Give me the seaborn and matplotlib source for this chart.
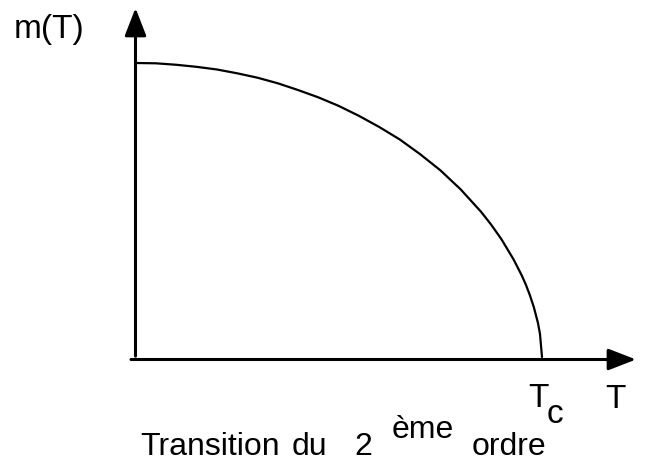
# Second-order transition sketch: magnetisation m(T) vanishing at Tc
import numpy as np
import pandas as pd
import matplotlib
matplotlib.use("Agg")
import matplotlib.pyplot as plt
import seaborn as sns

# -------------------------------
# Data (T in units of Tc, m in units of m(0))
# -------------------------------
t_values = [0.0, 0.05, 0.1, 0.15, 0.2, 0.25, 0.3, 0.35, 0.4, 0.45, 0.5,
            0.55, 0.6, 0.65, 0.7, 0.75, 0.8, 0.85, 0.875, 0.9, 0.93,
            0.95, 0.96, 0.97, 0.98, 0.99, 0.995, 1.0]
m_values = [1.00, 0.999, 0.994, 0.987, 0.978, 0.965, 0.950, 0.931, 0.908,
            0.883, 0.854, 0.820, 0.782, 0.740, 0.690, 0.635, 0.570, 0.494,
            0.450, 0.401, 0.332, 0.278, 0.247, 0.211, 0.169, 0.116, 0.079,
            0.0]

y_label = "m(T)"
x_label = "T"
tc_label = "T"
tc_sub = "c"
caption_parts = ["Transition", "du", "2", "ème", "ordre"]

df = pd.DataFrame({"T": t_values, "m": m_values})

# -------------------------------
# Figure
# -------------------------------
sns.set_style("white")
plt.rcParams["font.family"] = ["Liberation Sans", "DejaVu Sans"]

W, H = 645, 461
fig = plt.figure(figsize=(W / 100, H / 100), dpi=100)
ax = fig.add_axes([0, 0, 1, 1])

# pixel mapping: T=0 -> x=135.5, T=1 -> x=542 ; m=0 -> y=357, m=1 -> y=63
x0, sx = 135.5, 406.5
y0, sy = 357, 294
ax.set_xlim(-x0 / sx, (W - x0) / sx)
ax.set_ylim(-(H - y0) / sy, y0 / sy)
ax.set_axis_off()

sns.lineplot(data=df, x="T", y="m", ax=ax, color="black", linewidth=1.6,
             estimator=None, sort=False, legend=False)

# axes with arrows
arrow = dict(arrowstyle="-|>,head_length=0.85,head_width=0.33",
             color="black", lw=2.2, mutation_scale=20,
             shrinkA=0, shrinkB=0)
ax.annotate("", xy=(0, (y0 - 8) / sy), xytext=(0, 0.003), arrowprops=arrow)
ax.annotate("", xy=((636 - x0) / sx, -0.0085), xytext=((131 - x0) / sx, -0.0085),
            arrowprops=arrow)


def put(txt, px, py, size=24):
    fig.text(px / W, 1 - py / H, txt, fontsize=size, va="baseline",
             ha="left", color="black")


put(y_label, 14, 38, size=24)

put(tc_label, 528, 407)
put(tc_sub, 547, 423)
put(x_label, 605, 408)

put(caption_parts[0], 140, 455, size=23)
put(caption_parts[1], 292, 455, size=23)
put(caption_parts[2], 354, 455, size=23)
put(caption_parts[3], 392, 438, size=23)
put(caption_parts[4], 472, 455, size=23)

fig.savefig("out.png", dpi=100)
